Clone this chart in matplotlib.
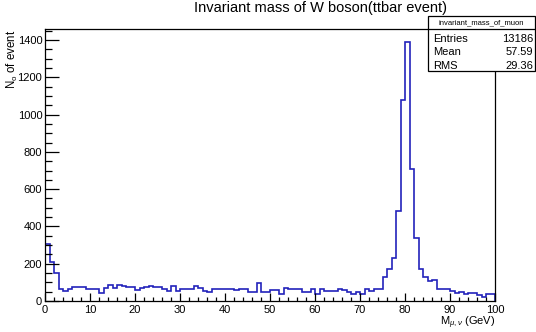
import matplotlib
matplotlib.use('Agg')
import matplotlib.pyplot as plt
import numpy as np
from matplotlib.patches import Rectangle
from matplotlib.ticker import MultipleLocator

plt.rcParams['font.family'] = ['Liberation Sans', 'DejaVu Sans']
plt.rcParams['mathtext.fontset'] = 'custom'
plt.rcParams['mathtext.rm'] = 'Liberation Sans'
plt.rcParams['mathtext.it'] = 'Liberation Sans:italic'

# histogram: 100 bins of 1 GeV from 0 to 100
edges = np.arange(0, 101, 1)
counts = [304, 207, 152, 66, 55, 63, 77, 77, 77, 63,
          63, 66, 45, 72, 88, 70, 88, 80, 77, 77,
          61, 72, 77, 83, 77, 77, 63, 55, 83, 55,
          63, 66, 66, 83, 72, 55, 48, 63, 63, 63,
          63, 63, 58, 63, 63, 50, 50, 95, 46, 46,
          61, 61, 35, 72, 63, 63, 66, 48, 50, 66,
          37, 63, 52, 55, 55, 66, 61, 50, 40, 48,
          40, 66, 55, 66, 66, 127, 172, 229, 484, 1077,
          1390, 707, 340, 170, 127, 109, 115, 63, 63, 63,
          55, 44, 46, 36, 44, 44, 33, 24, 35, 38]

stat_names = ['Entries', 'Mean', 'RMS']
stat_values = ['13186', '57.59', '29.36']
hist_name = 'invariant_mass_of_muon'

W, H = 536, 332
fig = plt.figure(figsize=(W / 100, H / 100), dpi=100)
ax = fig.add_axes([45 / W, 1 - 301 / H, (495 - 45) / W, (301 - 29) / H])

ax.stairs(counts, edges, baseline=0, color='#2222bb', linewidth=1.2)
ax.set_xlim(0, 100)
ax.set_ylim(0, 1.05 * max(counts))

ax.xaxis.set_major_locator(MultipleLocator(10))
ax.xaxis.set_minor_locator(MultipleLocator(2))
ax.yaxis.set_major_locator(MultipleLocator(200))
ax.yaxis.set_minor_locator(MultipleLocator(50))
ax.tick_params(which='both', direction='in', top=False, right=False,
               labelsize=8, width=0.9)
ax.tick_params(axis='y', which='major', length=10, pad=2)
ax.tick_params(axis='y', which='minor', length=5)
ax.tick_params(axis='x', which='major', length=6, pad=3)
ax.tick_params(axis='x', which='minor', length=3)
for s in ax.spines.values():
    s.set_linewidth(0.9)

fig.text(321 / W, 1 - 8 / H, 'Invariant mass of W boson(ttbar event)',
         ha='center', va='center', fontsize=10.5)
fig.text(12 / W, 1 - 30 / H, r'N$_{\rm o}$ of event', rotation=90,
         ha='center', va='top', fontsize=8.3)
fig.text(495 / W, 1 - 314.5 / H, r'M$_{\mu,\nu}$ (GeV)',
         ha='right', va='top', fontsize=8)

# stats box
bx0, bx1, by0, by1 = 428, 535, 15.5, 71
fig.patches.append(Rectangle((bx0 / W, 1 - by1 / H), (bx1 - bx0) / W, (by1 - by0) / H,
                             transform=fig.transFigure, facecolor='white',
                             edgecolor='black', linewidth=0.9, zorder=5))
fig.lines.append(plt.Line2D([bx0 / W, bx1 / W], [1 - 29 / H, 1 - 29 / H],
                            transform=fig.transFigure, color='black', linewidth=0.9, zorder=6))
fig.text((bx0 + bx1) / 2 / W, 1 - 22.5 / H, hist_name, ha='center', va='center',
         fontsize=5.5, zorder=7)
for i, (n, v) in enumerate(zip(stat_names, stat_values)):
    yy = 1 - (38.5 + 13.7 * i) / H
    fig.text(433 / W, yy, n, ha='left', va='center', fontsize=8, zorder=7)
    fig.text(533 / W, yy, v, ha='right', va='center', fontsize=8, zorder=7)

fig.savefig('out.png', dpi=100)
